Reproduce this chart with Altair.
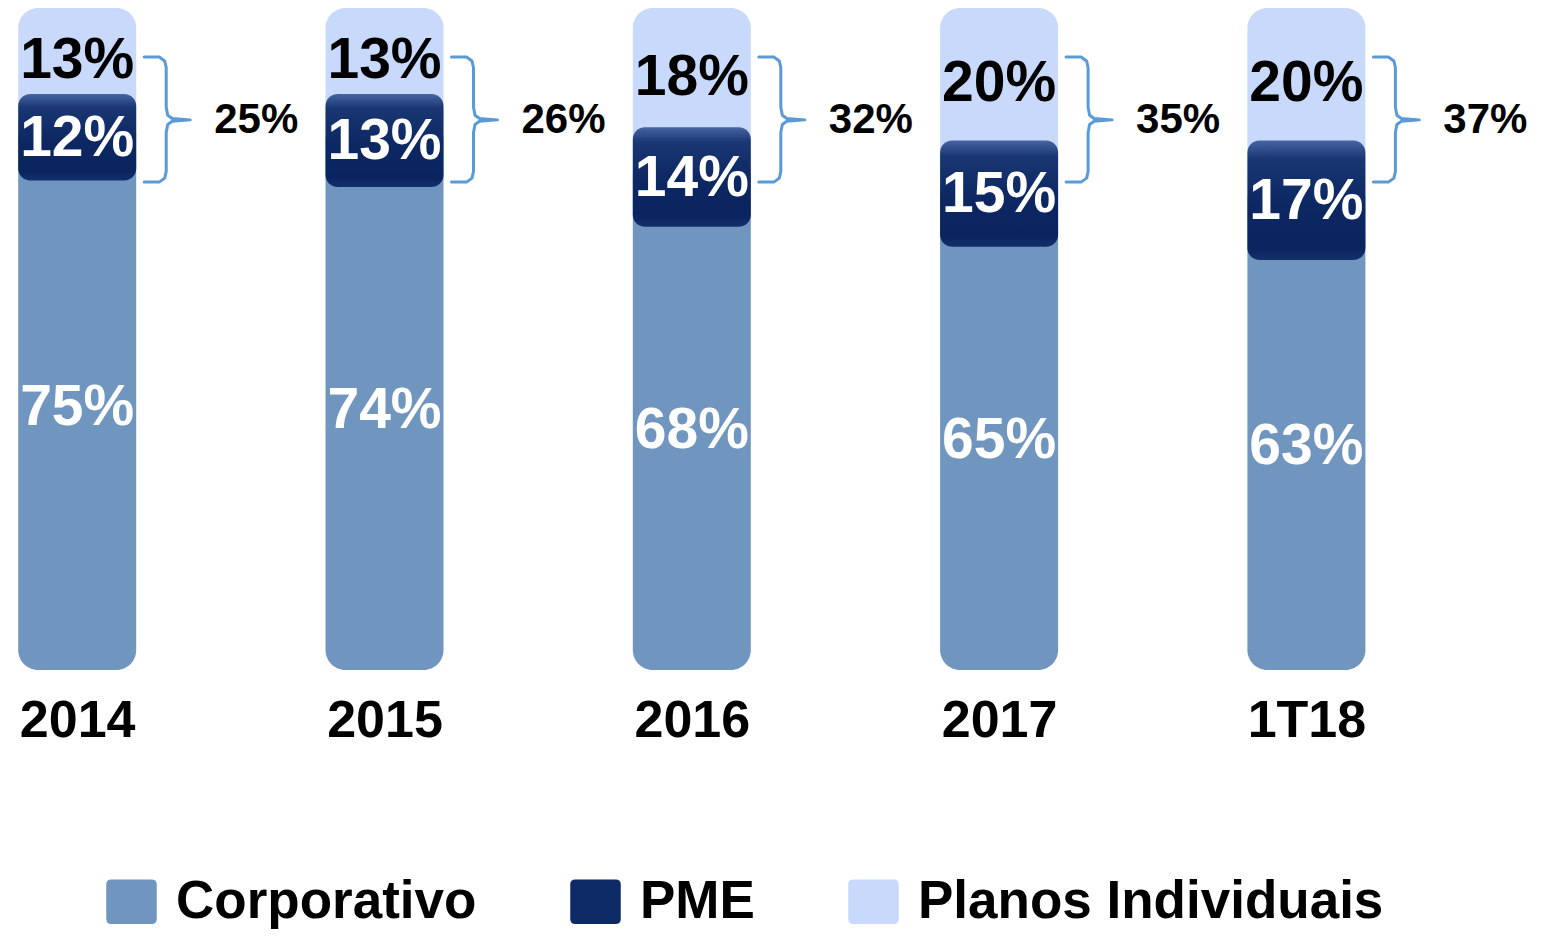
import json
import altair as alt
import pandas as pd

# ---- data ----
categories = ["2014", "2015", "2016", "2017", "1T18"]
corporativo = [75, 74, 68, 65, 63]
pme = [12, 13, 14, 15, 17]
planos = [13, 13, 18, 20, 20]
series_names = ["Corporativo", "PME", "Planos Individuais"]

# ---- style ----
FONT = "Liberation Sans"
C_CORP = "#7096c0"
C_PME = "#0d2966"
C_PLANOS = "#c9d9fc"
C_BRACE = "#5b9bd5"
W, H = 1529, 662
PAD_BOTTOM = 259
PX_PER_UNIT = 307.3
X_DOMAIN = [-0.2252, -0.2252 + W / PX_PER_UNIT]
BAR_W = 118
VAL_FS = 57

# brace geometry (dx in px from bar centre, y in value units)
BRACE_TOP, BRACE_MID, BRACE_BOT = 92.6, 83.1, 73.7
brace_shape = [
    (67, BRACE_TOP), (82, BRACE_TOP), (87.5, BRACE_TOP - 0.6), (89, BRACE_TOP - 1.6),
    (89, BRACE_MID + 1.9), (90.5, BRACE_MID + 0.7), (95, BRACE_MID + 0.2), (113, BRACE_MID),
    (95, BRACE_MID - 0.2), (90.5, BRACE_MID - 0.7), (89, BRACE_MID - 1.9),
    (89, BRACE_BOT + 1.6), (87.5, BRACE_BOT + 0.6), (82, BRACE_BOT), (67, BRACE_BOT),
]
BRACE_LABEL_DX = 179

rows = []
for i, cat in enumerate(categories):
    c, p, pl = corporativo[i], pme[i], planos[i]
    rows.append(dict(
        idx=i, cat=cat,
        corp_under=c + p / 2, corp_mid=c / 2,
        pme_lo=c, pme_hi=c + p, pme_mid=c + p / 2,
        planos_lo=c + p / 2, total=c + p + pl, planos_mid=c + p + pl / 2,
        corp_lbl=f"{c}%", pme_lbl=f"{p}%", planos_lbl=f"{pl}%",
        sum_lbl=f"{p + pl}%", brace_x=i + BRACE_LABEL_DX / PX_PER_UNIT,
        s_corp="Corporativo", s_planos="Planos Individuais",
    ))
df = pd.DataFrame(rows)

brace_rows = []
for i, cat in enumerate(categories):
    for k, (dx, yv) in enumerate(brace_shape):
        brace_rows.append(dict(cat=cat, order=k, bx=i + dx / PX_PER_UNIT, by=yv))
brace_df = pd.DataFrame(brace_rows)

label_expr = f"{json.dumps(categories)}[datum.value]"
xscale = alt.Scale(domain=X_DOMAIN, nice=False, zero=False, padding=0)
yscale = alt.Scale(domain=[0, 100], nice=False, zero=False, padding=0)

x_axis = alt.Axis(values=list(range(len(categories))), labelExpr=label_expr, grid=False,
                  domain=False, ticks=False, title=None, labelFont=FONT, labelFontSize=52,
                  labelFontWeight="bold", labelColor="black", labelPadding=25)

color_scale = alt.Scale(domain=series_names, range=[C_CORP, C_PME, C_PLANOS])
sym_path = ("M-0.8,-0.88 L0.8,-0.88 Q1,-0.88 1,-0.68 L1,0.68 Q1,0.88 0.8,0.88 "
            "L-0.8,0.88 Q-1,0.88 -1,0.68 L-1,-0.68 Q-1,-0.88 -0.8,-0.88 Z")
legend = alt.Legend(title=None, orient="none", legendX=97, legendY=867, direction="horizontal",
                    symbolType=sym_path, symbolSize=2550, symbolStrokeWidth=0, symbolOpacity=1,
                    labelFont=FONT, labelFontSize=53, labelFontWeight="bold", labelColor="black",
                    labelOffset=18, columnPadding=92, labelLimit=2000)

base = alt.Chart(df)
X = alt.X("idx:Q", scale=xscale, axis=x_axis)

planos_bar = base.mark_bar(width=BAR_W, cornerRadiusTopLeft=20, cornerRadiusTopRight=20).encode(
    x=X, y=alt.Y("planos_lo:Q", scale=yscale, axis=None, stack=None), y2="total:Q",
    color=alt.Color("s_planos:N", scale=color_scale, legend=legend))

corp_bar = base.mark_bar(width=BAR_W, cornerRadiusBottomLeft=20, cornerRadiusBottomRight=20).encode(
    x=X, y=alt.Y("corp_under:Q", scale=yscale, axis=None, stack=None),
    color=alt.Color("s_corp:N", scale=color_scale, legend=legend))

pme_grad = alt.Gradient(gradient="linear", x1=0, x2=0, y1=0, y2=1, stops=[
    alt.GradientStop(color="#4565a3", offset=0),
    alt.GradientStop(color="#1a3773", offset=0.15),
    alt.GradientStop(color="#0c2762", offset=0.55),
    alt.GradientStop(color="#0a2460", offset=0.9),
    alt.GradientStop(color="#14306a", offset=1),
])
pme_bar = base.mark_bar(width=BAR_W, cornerRadius=12, color=pme_grad, yOffset=7).encode(
    x=X, y=alt.Y("pme_lo:Q", scale=yscale, axis=None, stack=None), y2="pme_hi:Q")

def val_text(field, lbl, color, dy=0):
    return base.mark_text(font=FONT, fontSize=VAL_FS, fontWeight="bold", color=color,
                          baseline="middle", align="center", dy=dy).encode(
        x=X, y=alt.Y(f"{field}:Q", scale=yscale, axis=None), text=f"{lbl}:N")

corp_txt = val_text("corp_mid", "corp_lbl", "white", dy=-14)
pme_txt = val_text("pme_mid", "pme_lbl", "white", dy=5)
planos_txt = val_text("planos_mid", "planos_lbl", "black", dy=10)

brace = alt.Chart(brace_df).mark_line(color=C_BRACE, strokeWidth=3, strokeJoin="round",
                                      strokeCap="round").encode(
    x=alt.X("bx:Q", scale=xscale, axis=x_axis), y=alt.Y("by:Q", scale=yscale, axis=None),
    detail="cat:N", order="order:Q")

brace_txt = base.mark_text(font=FONT, fontSize=42, fontWeight="bold", color="black",
                           baseline="middle", align="center").encode(
    x=alt.X("brace_x:Q", scale=xscale, axis=x_axis),
    y=alt.datum(BRACE_MID, scale=yscale), text="sum_lbl:N")

chart = alt.layer(planos_bar, corp_bar, pme_bar, corp_txt, pme_txt, planos_txt, brace, brace_txt).properties(
    width=W, height=H, background="white",
    autosize=alt.AutoSizeParams(type="none"),
    padding={"left": 0, "top": 0, "right": 0, "bottom": PAD_BOTTOM},
).configure_view(stroke=None, strokeWidth=0)

chart.save("out.html", embed_options={"renderer": "svg", "actions": False})
